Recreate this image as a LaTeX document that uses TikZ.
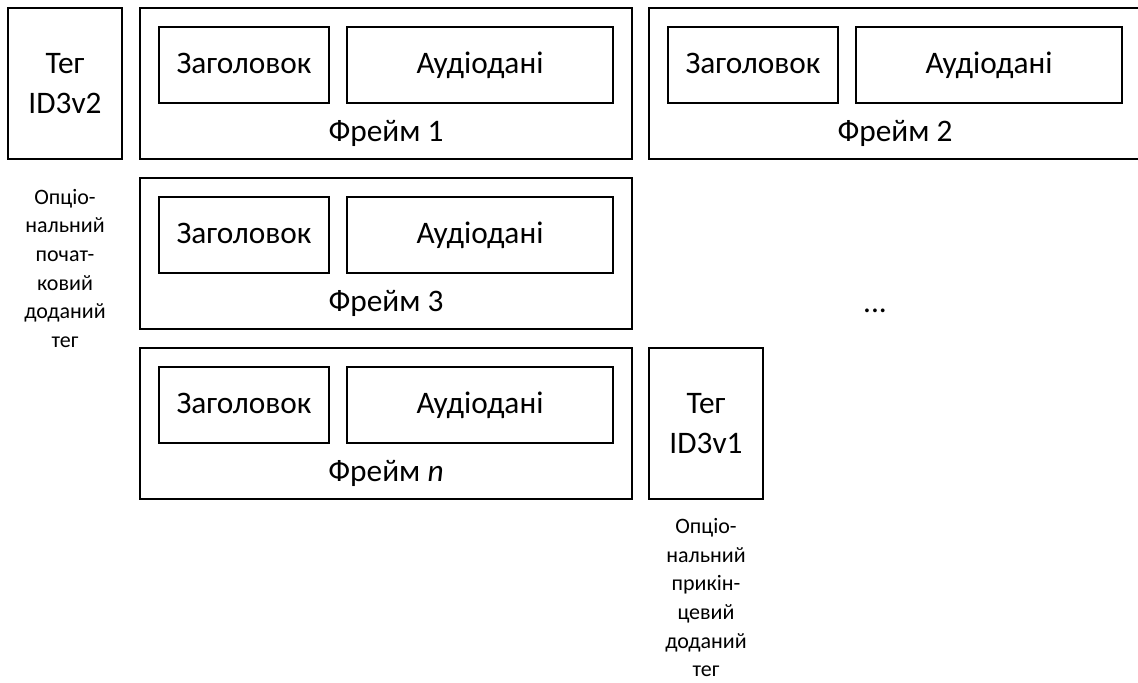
\documentclass[tikz,border=0pt]{standalone}
\usepackage{fontspec}
\setmainfont{Carlito}
\usepackage{tikz}

\tikzset{
  frmbox/.style={draw, line width=1.5pt, minimum width=369pt, minimum height=113.25pt, inner sep=0pt},
  tagbox/.style={draw, line width=1.5pt, minimum width=85.5pt, minimum height=113.25pt, inner sep=0pt, align=center, font=\fontsize{23.5}{30}\selectfont},
  hdrbox/.style={draw, line width=1.5pt, minimum width=127.5pt, minimum height=57pt, inner sep=0pt, text height=16.5pt, text depth=3.5pt, font=\fontsize{23.5}{30}\selectfont},
  databox/.style={draw, line width=1.5pt, minimum width=199.5pt, minimum height=57pt, inner sep=0pt, text height=16.5pt, text depth=3.5pt, font=\fontsize{23.5}{30}\selectfont},
  frmlabel/.style={inner sep=0pt, font=\fontsize{23.5}{30}\selectfont},
  notetext/.style={inner sep=0pt, align=center, font=\fontsize{16.5}{21.5}\selectfont}
}

\begin{document}
\begin{tikzpicture}[x=0.75pt,y=0.75pt,yscale=-1,xscale=1]
  \clip (0,0) rectangle (1138,682);

  % leading tag
  \node [tagbox] (tagv2) at (65,83.5) {Тег\\ID3v2};
  \node [notetext] (notev2) at (65,268.5) {Опціо-\\нальний\\почат-\\ковий\\доданий\\тег};

  % Frame 1
  \node [frmbox] (frm1) at (386,83.5) {};
  \node [hdrbox] (hdr1) at (244,65) {Заголовок};
  \node [databox] (dat1) at (480,65) {Аудіодані};
  \node [frmlabel] (lbl1) at (386,133) {Фрейм 1};

  % Frame 2
  \node [frmbox] (frm2) at (895,83.5) {};
  \node [hdrbox] (hdr2) at (753,65) {Заголовок};
  \node [databox] (dat2) at (989,65) {Аудіодані};
  \node [frmlabel] (lbl2) at (895,133) {Фрейм 2};

  % Frame 3
  \node [frmbox] (frm3) at (386,253.5) {};
  \node [hdrbox] (hdr3) at (244,235) {Заголовок};
  \node [databox] (dat3) at (480,235) {Аудіодані};
  \node [frmlabel] (lbl3) at (386,303) {Фрейм 3};

  \node [frmlabel] (dots) at (875,311) {...};

  % Frame n
  \node [frmbox] (frmn) at (386,423.5) {};
  \node [hdrbox] (hdrn) at (244,405) {Заголовок};
  \node [databox] (datn) at (480,405) {Аудіодані};
  \node [frmlabel] (lbln) at (386,473) {Фрейм \textit{n}};

  % trailing tag
  \node [tagbox] (tagv1) at (706,423.5) {Тег\\ID3v1};
  \node [notetext] (notev1) at (706,597.5) {Опціо-\\нальний\\прикін-\\цевий\\доданий\\тег};
\end{tikzpicture}
\end{document}
